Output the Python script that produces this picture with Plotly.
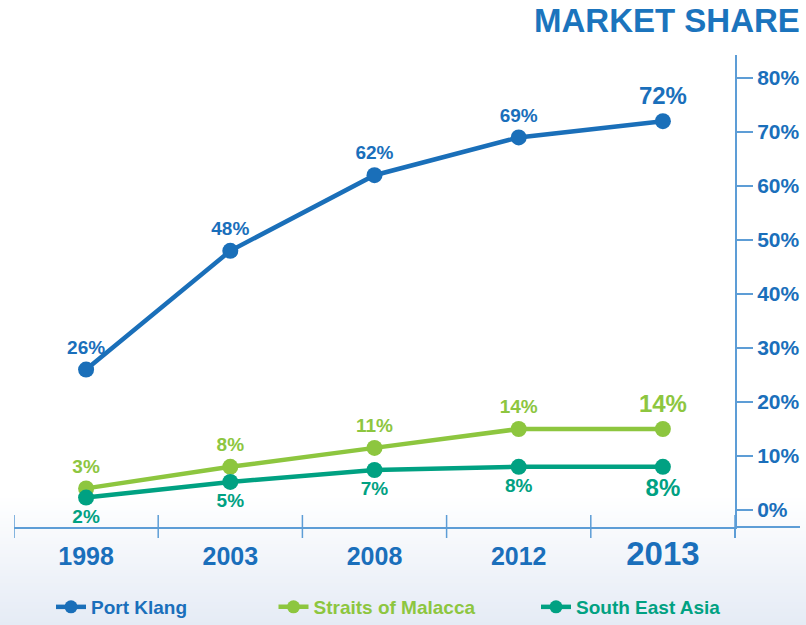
import plotly.graph_objects as go

# ---------------- data ----------------
years = ["1998", "2003", "2008", "2012", "2013"]
port_klang = [26, 48, 62, 69, 72]
straits_malacca = [4, 8, 11.5, 15, 15]
south_east_asia = [2.3, 5.2, 7.4, 8, 8]
port_klang_labels = ["26%", "48%", "62%", "69%", "72%"]
straits_labels = ["3%", "8%", "11%", "14%", "14%"]
sea_labels = ["2%", "5%", "7%", "8%", "8%"]
y_ticks = [0, 10, 20, 30, 40, 50, 60, 70, 80]
series_names = ["Port Klang", "Straits of Malacca", "South East Asia"]

# ---------------- style ----------------
W, H = 806, 625
ML, MR, MT, MB = 14, 71, 55, 98
PW, PH = W - ML - MR, H - MT - MB

BLUE = "#1a6fb9"
BLUE_TXT = "#1a6fbb"
GREEN = "#8dc63f"
TEAL = "#00a182"
AXIS = "#5d9dd6"
BOLD = "Liberation Sans, Arial, sans-serif"


def px_x(px):
    return (px - ML) / PW


def px_y(py):
    return (H - MB - py) / PH


def label_sizes(n):
    return [19] * (n - 1) + [24]


fig = go.Figure()

series = [
    (series_names[0], port_klang, port_klang_labels, BLUE, BLUE_TXT, "top center", "legend"),
    (series_names[1], straits_malacca, straits_labels, GREEN, GREEN, "top center", "legend2"),
    (series_names[2], south_east_asia, sea_labels, TEAL, TEAL, "bottom center", "legend3"),
]

for name, vals, labels, col, tcol, tpos, lg in series:
    fig.add_trace(go.Scatter(
        x=years, y=vals, mode="lines+markers+text", name=name,
        text=labels, textposition=tpos,
        textfont=dict(family=BOLD, size=label_sizes(len(years)), color=tcol, weight="bold"),
        line=dict(color=col, width=4.5),
        marker=dict(color=col, size=16),
        showlegend=False, cliponaxis=False,
    ))
    fig.add_trace(go.Scatter(
        x=[None], y=[None], mode="lines+markers", name=name,
        line=dict(color=col, width=4.5),
        marker=dict(color=col, size=13),
        legend=lg, showlegend=True,
    ))

shapes = []
# background gradient at the bottom
n_bands = 40
top_py, bot_py = 495, H
c0, c1 = (255, 255, 255), (229, 235, 245)
for i in range(n_bands):
    t = (i + 0.5) / n_bands
    col = tuple(round(c0[k] + (c1[k] - c0[k]) * t) for k in range(3))
    y0 = top_py + (bot_py - top_py) * i / n_bands
    y1 = top_py + (bot_py - top_py) * (i + 1) / n_bands + 1
    shapes.append(dict(type="rect", xref="paper", yref="paper",
                       x0=px_x(0), x1=px_x(W), y0=px_y(y1), y1=px_y(y0),
                       fillcolor="rgb(%d,%d,%d)" % col, line=dict(width=0), layer="below"))

# crossing tick marks on the category boundaries
for i in range(len(years) + 1):
    shapes.append(dict(type="line", xref="x", yref="paper",
                       x0=i - 0.5, x1=i - 0.5, y0=px_y(538), y1=px_y(515),
                       line=dict(color=AXIS, width=1.5)))
# x-axis line extension to the right, y-axis extension below
shapes.append(dict(type="line", xref="paper", yref="paper",
                   x0=1, x1=px_x(800), y0=0, y1=0, line=dict(color=AXIS, width=2)))
shapes.append(dict(type="line", xref="paper", yref="paper",
                   x0=1, x1=1, y0=px_y(538), y1=0, line=dict(color=AXIS, width=2)))

ticktext = [
    ("<span style='font-size:33px'>%s</span>" % y) if i == len(years) - 1 else y
    for i, y in enumerate(years)
]

legend_common = dict(orientation="h", xanchor="center", yanchor="middle",
                     bgcolor="rgba(0,0,0,0)", itemwidth=30)

fig.update_layout(
    width=W, height=H,
    margin=dict(l=ML, r=MR, t=MT, b=MB, pad=0, autoexpand=False),
    paper_bgcolor="white", plot_bgcolor="rgba(0,0,0,0)",
    shapes=shapes,
    xaxis=dict(
        type="category", range=[-0.5, len(years) - 0.5],
        showgrid=False, zeroline=False,
        showline=True, linecolor=AXIS, linewidth=2,
        ticks="", tickvals=years, ticktext=ticktext,
        tickfont=dict(family=BOLD, size=25, color=BLUE_TXT, weight="bold"),
        ticklabelstandoff=6,
    ),
    yaxis=dict(
        side="right", range=[-3.15, 84.26],
        showgrid=False, zeroline=False,
        showline=True, linecolor=AXIS, linewidth=2,
        ticks="outside", ticklen=16, tickcolor=AXIS, tickwidth=1.5,
        tickvals=y_ticks, ticktext=["%d%%" % v for v in y_ticks],
        tickfont=dict(family=BOLD, size=21, color=BLUE_TXT, weight="bold"),
    ),
    annotations=[dict(
        text="MARKET SHARE", xref="paper", yref="paper",
        x=px_x(802), y=px_y(21), xanchor="right", yanchor="middle",
        showarrow=False,
        font=dict(family=BOLD, size=33, color="#1b74bd", weight="bold"),
    )],
    legend=dict(x=px_x(122), y=px_y(607),
                font=dict(family=BOLD, size=19, color=BLUE_TXT, weight="bold"), **legend_common),
    legend2=dict(x=px_x(377), y=px_y(607),
                 font=dict(family=BOLD, size=19, color=GREEN, weight="bold"), **legend_common),
    legend3=dict(x=px_x(631), y=px_y(607),
                 font=dict(family=BOLD, size=19, color=TEAL, weight="bold"), **legend_common),
)

fig.write_html("out.html")
